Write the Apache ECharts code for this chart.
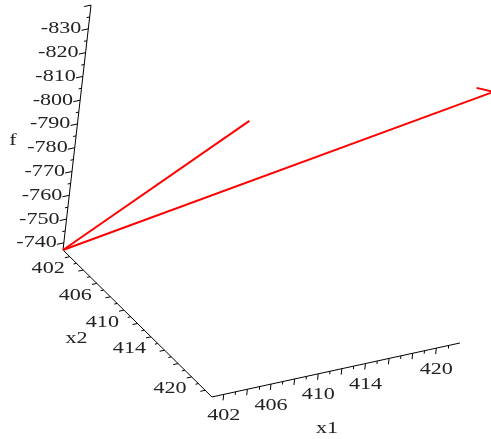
<!DOCTYPE html>
<html>
<head>
<meta charset="utf-8">
<script src="https://cdn.jsdelivr.net/npm/echarts@6/dist/echarts.min.js"></script>
<style>
html, body { margin: 0; padding: 0; background: #fff; }
#chart { width: 491px; height: 439px; }
</style>
</head>
<body>
<div id="chart"></div>
<script>
// axis ranges of the 3d box (x1, x2, f)
var x1Range = [401, 422];
var x2Range = [401, 423];
var fRange = [-737, -840];

// labelled ticks
var x1Labels = [402, 406, 410, 414, 420];
var x2Labels = [402, 406, 410, 414, 420];
var fLabels = [-740, -750, -760, -770, -780, -790, -800, -810, -820, -830];

// the two red paths, points as [x1, x2, f]
var path1 = [[401, 401, -737], [415.9, 401, -775.2]];
var path2 = [[401, 401, -737], [436.8, 401, -764.8], [435.3, 401, -768.1]];

// view: screen position of the box corner and screen step per unit of each axis
var origin = [63, 250];
var e1 = [11.81, -2.57];
var e2 = [6.77, 6.68];
var ef = [-0.272, 2.378];

function proj(p) {
    var a = p[0] - x1Range[0], b = p[1] - x2Range[0], c = p[2] - fRange[0];
    return [origin[0] + a * e1[0] + b * e2[0] + c * ef[0],
            origin[1] + a * e1[1] + b * e2[1] + c * ef[1]];
}
function unit(v) {
    var l = Math.sqrt(v[0] * v[0] + v[1] * v[1]);
    return [v[0] / l, v[1] / l];
}

var left = unit([-e1[0], -e1[1]]);
var down = unit(ef);

var axisLines = [
    [[x1Range[0], x2Range[0], fRange[0]], [x1Range[0], x2Range[0], fRange[1]]],
    [[x1Range[0], x2Range[0], fRange[0]], [x1Range[0], x2Range[1], fRange[0]]],
    [[x1Range[0], x2Range[1], fRange[0]], [x1Range[1], x2Range[1], fRange[0]]]
];

var ticks = [];
var labels = [];
function tick(p, dir, len) {
    var s = proj(p);
    ticks.push({ coords: [s, [s[0] + dir[0] * len, s[1] + dir[1] * len]] });
    return s;
}
var v, s;
for (v = -740; v >= -840; v -= 5) {
    s = tick([x1Range[0], x2Range[0], v], left, v % 10 === 0 ? 7 : 3);
    if (fLabels.indexOf(v) >= 0) labels.push({ value: [s[0] - 7, s[1]], text: String(v), align: 'right' });
}
for (v = 402; v <= 422; v++) {
    s = tick([x1Range[0], v, fRange[0]], left, v % 2 === 0 ? 5 : 3);
    if (x2Labels.indexOf(v) >= 0) labels.push({ value: [s[0] - 5, s[1] + 12], text: String(v), align: 'right' });
}
for (v = 402; v <= 421; v++) {
    s = tick([v, x2Range[1], fRange[0]], down, v % 2 === 0 ? 6 : 3);
    if (x1Labels.indexOf(v) >= 0) labels.push({ value: [s[0], s[1] + 21], text: String(v), align: 'center' });
}
var pf = proj([x1Range[0], x2Range[0], -781]);
labels.push({ value: [pf[0] - 62, pf[1] - 5], text: 'f', align: 'center' });
var px2 = proj([x1Range[0], 412, fRange[0]]);
labels.push({ value: [px2[0] - 61, px2[1] + 15], text: 'x2', align: 'center' });
var px1 = proj([411, x2Range[1], fRange[0]]);
labels.push({ value: [px1[0] - 3, px1[1] + 57], text: 'x1', align: 'center' });

var series = [];
axisLines.forEach(function (seg) {
    series.push({ type: 'line', data: seg.map(proj), symbol: 'none', silent: true,
        lineStyle: { color: '#000', width: 1 } });
});
series.push({ type: 'lines', coordinateSystem: 'cartesian2d', data: ticks, silent: true,
    lineStyle: { color: '#000', width: 1, opacity: 1 } });
series.push({
    type: 'custom', data: labels.map(function (l) { return l.value; }), silent: true,
    renderItem: function (params, api) {
        var it = labels[params.dataIndex];
        var pt = api.coord([api.value(0), api.value(1)]);
        return { type: 'text', x: pt[0], y: pt[1], scaleX: 1.3,
            style: { text: it.text, font: '17px "Liberation Serif"', fill: '#222',
                align: it.align, verticalAlign: 'middle' } };
    }
});
[path1, path2].forEach(function (p) {
    series.push({ type: 'line', data: p.map(proj), symbol: 'none', silent: true,
        lineStyle: { color: '#ff0000', width: 2 } });
});

var chart = echarts.init(document.getElementById('chart'));
chart.setOption({
    animation: false,
    grid: { left: 0, right: 0, top: 0, bottom: 0 },
    xAxis: { type: 'value', min: 0, max: 491, show: false },
    yAxis: { type: 'value', min: 0, max: 439, inverse: true, show: false },
    series: series
});
</script>
</body>
</html>
